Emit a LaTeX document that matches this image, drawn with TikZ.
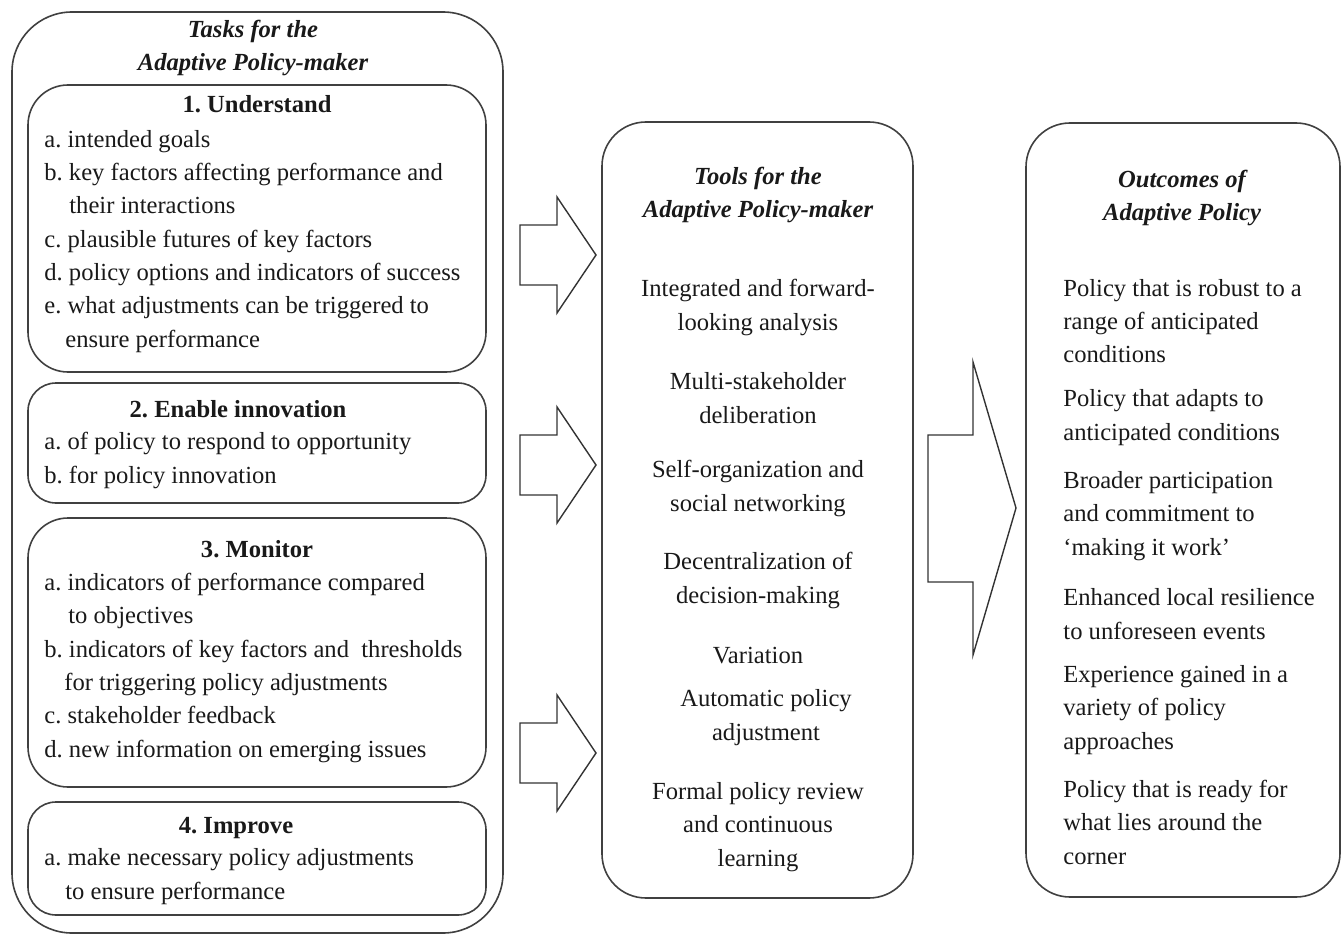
\documentclass[tikz,border=0pt]{standalone}
\usepackage{fontspec}
\setmainfont{Liberation Serif}
\frenchspacing

\begin{document}
\begin{tikzpicture}
    [
        x=0.5pt, y=-0.5pt,
        every node/.style = {inner sep=0pt, text=black!90, font=\fontsize{12.3}{16.65}\selectfont},
        frame/.style = {draw=black!75, line width=0.8pt, shape=rectangle},
        heading/.style = {font=\fontsize{12.3}{16.65}\selectfont\bfseries\itshape, align=center, anchor=base},
        subhead/.style = {font=\fontsize{12.3}{16.65}\selectfont\bfseries, anchor=base},
        items/.style = {align=left, anchor=base west},
        tool/.style = {align=center, anchor=base},
        fat/.style = {draw=black!80, line width=0.7pt, line join=miter},
    ]

    \useasboundingbox (0,0) rectangle (1344,936);

    % left column: tasks (text nodes sit on the baseline of their last line)
    \node[frame, rounded corners=30pt, minimum width=245.5pt, minimum height=460.5pt] (tasks) at (257.5,472.5) {};
    \node[frame, rounded corners=20pt, minimum width=229pt, minimum height=143.5pt] (understand) at (257,228.5) {};
    \node[frame, rounded corners=14pt, minimum width=229pt, minimum height=60pt] (enable) at (257,443) {};
    \node[frame, rounded corners=20pt, minimum width=229pt, minimum height=134.5pt] (monitor) at (257,652.5) {};
    \node[frame, rounded corners=14pt, minimum width=229pt, minimum height=56.5pt] (improve) at (257,858.5) {};

    \node[heading] (tasks-title) at (253,71) {Tasks for the\\Adaptive Policy-maker};

    \node[subhead] (understand-title) at (257,113) {1. Understand};
    \node[items] (understand-list) at (44,347) {a. intended goals\\
        b. key factors affecting performance and\\
        \hspace*{12.5pt}their interactions\\
        c. plausible futures of key factors\\
        d. policy options and indicators of success\\
        e. what adjustments can be triggered to\\
        \hspace*{10.5pt}ensure performance};

    \node[subhead] (enable-title) at (238,417) {2. Enable innovation};
    \node[items] (enable-list) at (44,483) {a. of policy to respond to opportunity\\
        b. for policy innovation};

    \node[subhead] (monitor-title) at (257,557) {3. Monitor};
    \node[items] (monitor-list) at (44,757) {a. indicators of performance compared\\
        \hspace*{12pt}to objectives\\
        b. indicators of key factors and~~thresholds\\
        \hspace*{10pt}for triggering policy adjustments\\
        c. stakeholder feedback\\
        d. new information on emerging issues};

    \node[subhead] (improve-title) at (236,833) {4. Improve};
    \node[items] (improve-list) at (44,899) {a. make necessary policy adjustments\\
        \hspace*{10.5pt}to ensure performance};

    % middle column: tools
    \node[frame, rounded corners=22pt, minimum width=155.5pt, minimum height=388pt] (tools) at (757.5,510) {};
    \node[heading] (tools-title) at (758,218) {Tools for the\\Adaptive Policy-maker};
    \node[tool] (tool1) at (758,330) {Integrated and forward-\\looking analysis};
    \node[tool] (tool2) at (758,423) {Multi-stakeholder\\deliberation};
    \node[tool] (tool3) at (758,511) {Self-organization and\\social networking};
    \node[tool] (tool4) at (758,603) {Decentralization of\\decision-making};
    \node[tool] (tool5) at (758,663) {Variation};
    \node[tool] (tool6) at (766,740) {Automatic policy\\adjustment};
    \node[tool] (tool7) at (758,866) {Formal policy review\\and continuous\\learning};

    % right column: outcomes
    \node[frame, rounded corners=22pt, minimum width=157pt, minimum height=387pt] (outcomes) at (1183,510) {};
    \node[heading] (outcomes-title) at (1182,221) {Outcomes of\\Adaptive Policy};
    \node[items] (outcome1) at (1063,363) {Policy that is robust to a\\range of anticipated\\conditions};
    \node[items] (outcome2) at (1063,440) {Policy that adapts to\\anticipated conditions};
    \node[items] (outcome3) at (1063,555) {Broader participation\\and commitment to\\‘making it work’};
    \node[items] (outcome4) at (1063,639) {Enhanced local resilience\\to unforeseen events};
    \node[items] (outcome5) at (1063,749) {Experience gained in a\\variety of policy\\approaches};
    \node[items] (outcome6) at (1063,864) {Policy that is ready for\\what lies around the\\corner};

    % block arrows
    \foreach \ty in {255,465,753}
        \draw[fat] (520,\ty-30) -- (557,\ty-30) -- (557,\ty-58) -- (596,\ty) -- (557,\ty+58) -- (557,\ty+30) -- (520,\ty+30) -- cycle;
    \draw[fat] (928,435) -- (973,435) -- (973,362) -- (1016,508) -- (973,655) -- (973,582) -- (928,582) -- cycle;

\end{tikzpicture}
\end{document}
